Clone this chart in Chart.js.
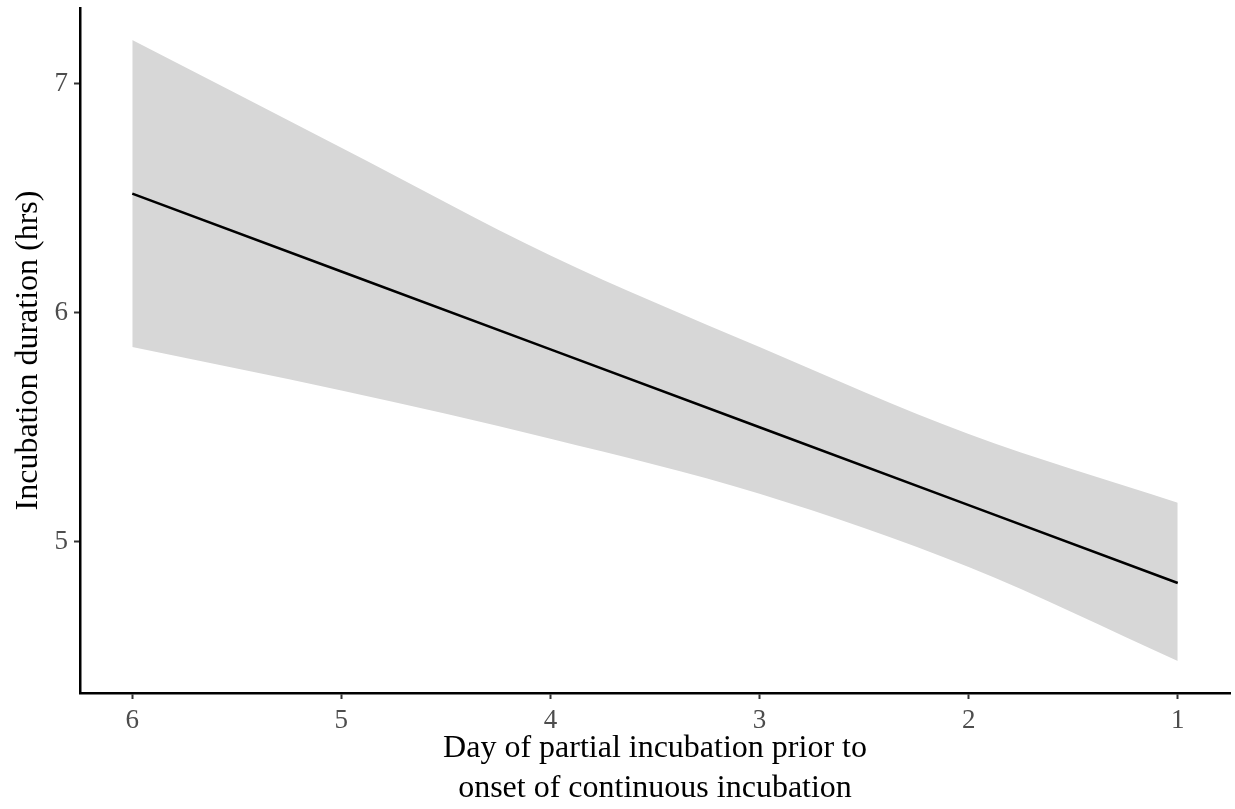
<!DOCTYPE html>
<html lang="en">
<head>
    <meta charset="UTF-8">
    <meta name="viewport" content="width=device-width, initial-scale=1.0">
    <script src="https://cdn.jsdelivr.net/npm/chart.js@4.4.0/dist/chart.umd.min.js"></script>
    <title>Incubation duration</title>
    <style>
        body{margin:0; background:#fff;}
        canvas{display:block;}
    </style>
</head>
<body>
    <canvas id="myChart" width="1235" height="809"></canvas>
    <script>
        // day of partial incubation (x) and fitted duration with its confidence band
        const days = [6, 5, 4, 3, 2, 1]
        const fitHrs = [6.52, 6.18, 5.84, 5.50, 5.16, 4.82]
        const upperHrs = [7.19, 6.72, 6.25, 5.85, 5.47, 5.17]
        const lowerHrs = [5.85, 5.66, 5.45, 5.21, 4.89, 4.48]
        const xTicks = [6, 5, 4, 3, 2, 1]
        const yTicks = [5, 6, 7]

        const pts = ys => days.map((d, i) => ({x: d, y: ys[i]}))
        const serif = "'Liberation Serif', 'Times New Roman', serif"

        const axisCommon = {
            grid: {display: true, drawOnChartArea: false, drawTicks: true, tickLength: 6, tickColor: '#333', tickWidth: 2},
            border: {display: true, color: '#000', width: 2.5},
            ticks: {color: '#4d4d4d', font: {family: serif, size: 27}, padding: 6}
        }

        const ctx = document.getElementById('myChart').getContext('2d')
        const myChart = new Chart(ctx, {
            type: 'line',
            data: {
                datasets: [
                    {
                        label: 'upper',
                        data: pts(upperHrs),
                        order: 1,
                        borderWidth: 0,
                        pointRadius: 0,
                        cubicInterpolationMode: 'monotone',
                        backgroundColor: '#d7d7d7',
                        fill: '+1'
                    },
                    {
                        label: 'lower',
                        data: pts(lowerHrs),
                        order: 1,
                        borderWidth: 0,
                        pointRadius: 0,
                        cubicInterpolationMode: 'monotone',
                        fill: false
                    },
                    {
                        // fitted line drawn on top of the band
                        label: 'fit',
                        data: pts(fitHrs),
                        order: 0,
                        borderColor: '#000',
                        borderWidth: 2.5,
                        pointRadius: 0,
                        fill: false
                    }
                ]
            },
            options: {
                responsive: false,
                animation: false,
                layout: {padding: {top: 8, right: 5, left: 0, bottom: 0}},
                plugins: {legend: {display: false}, tooltip: {enabled: false}},
                scales: {
                    x: {
                        type: 'linear',
                        reverse: true,
                        min: 0.75,
                        max: 6.25,
                        ...axisCommon,
                        afterBuildTicks: s => { s.ticks = xTicks.map(v => ({value: v})) },
                        afterFit: s => { s.height = 116; s.paddingLeft = 0; s.paddingRight = 0 },
                        title: {
                            display: true,
                            text: ['Day of partial incubation prior to', 'onset of continuous incubation'],
                            color: '#000',
                            font: {family: serif, size: 32, lineHeight: 1.25},
                            padding: {top: 0, bottom: 0}
                        }
                    },
                    y: {
                        type: 'linear',
                        min: 4.34,
                        max: 7.33,
                        ...axisCommon,
                        afterBuildTicks: s => { s.ticks = yTicks.map(v => ({value: v})) },
                        afterFit: s => { s.width = 80; s.paddingTop = 0; s.paddingBottom = 0 },
                        title: {
                            display: true,
                            text: 'Incubation duration (hrs)',
                            color: '#000',
                            font: {family: serif, size: 32, lineHeight: 1.2},
                            padding: {top: 9, bottom: 0}
                        }
                    }
                }
            }
        })//chart
    </script>
</body>
</html>
